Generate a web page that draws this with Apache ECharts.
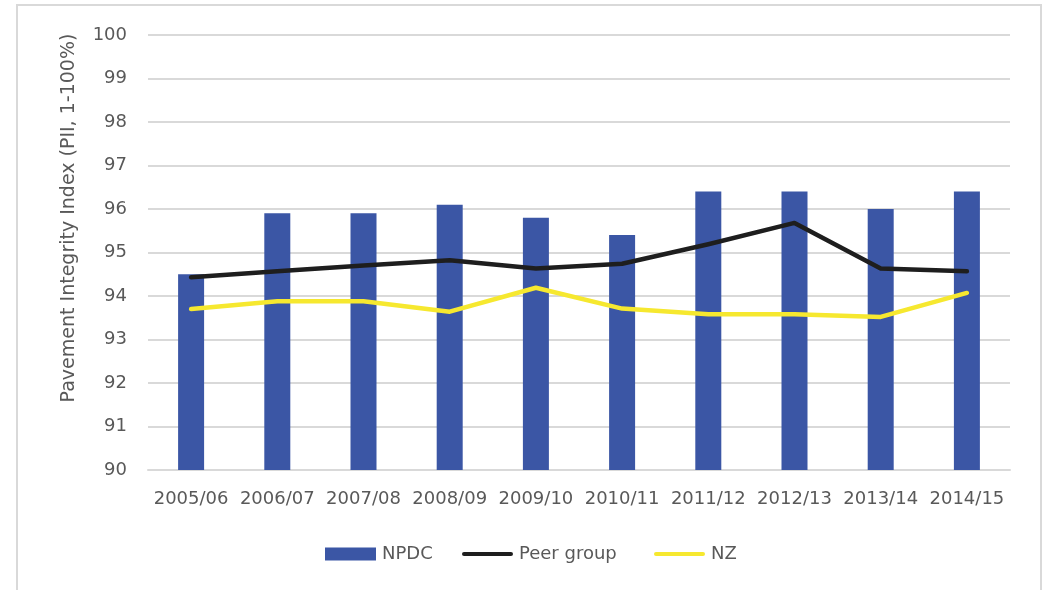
<!DOCTYPE html>
<html>
<head>
<meta charset="utf-8">
<script src="https://cdn.jsdelivr.net/npm/echarts@6/dist/echarts.min.js"></script>
<style>
  html, body { margin: 0; padding: 0; background: #ffffff; }
  #chart { width: 1046px; height: 590px; }
</style>
</head>
<body>
<div id="chart"></div>
<script>
// Pavement Integrity Index by financial year
const years = ['2005/06', '2006/07', '2007/08', '2008/09', '2009/10', '2010/11', '2011/12', '2012/13', '2013/14', '2014/15'];
const npdc = [94.5, 95.9, 95.9, 96.1, 95.8, 95.4, 96.4, 96.4, 96.0, 96.4];
const peerGroup = [94.43, 94.57, 94.70, 94.82, 94.63, 94.74, 95.19, 95.68, 94.63, 94.57];
const nz = [93.70, 93.88, 93.88, 93.64, 94.19, 93.71, 93.58, 93.58, 93.52, 94.07];
const yTicks = { min: 90, max: 100, step: 1 };

const FONT = 'DejaVu Sans';
const TEXT_COLOR = '#595959';
const GRID_COLOR = '#d9d9d9';
const BAR_COLOR = '#3b56a5';
const PEER_COLOR = '#1e1e1e';
const NZ_COLOR = '#f6e82f';

// thick rounded stroke used as the legend marker for the line series
const LINE_ICON = 'path://M2,0 L49,0 A2,2 0 0 1 49,4 L2,4 A2,2 0 0 1 2,0 Z';

// one legend block per series so each entry sits at its own offset
function legendEntry(left, name, icon, color) {
  return {
    left: left,
    top: 545,
    padding: 0,
    itemWidth: 51,
    itemHeight: 13,
    symbolKeepAspect: true,
    textStyle: { fontFamily: FONT, fontSize: 18, color: TEXT_COLOR, padding: [0, 0, 0, 1] },
    data: [{ name: name, icon: icon, itemStyle: { color: color, borderWidth: 0 } }]
  };
}

const chart = echarts.init(document.getElementById('chart'), null, { renderer: 'canvas' });

chart.setOption({
  backgroundColor: '#ffffff',
  animation: false,
  textStyle: { fontFamily: FONT },
  grid: { left: 148, right: 36, top: 35, bottom: 120, containLabel: false },
  legend: [
    legendEntry(325, 'NPDC', 'rect', BAR_COLOR),
    legendEntry(462, 'Peer group', LINE_ICON, PEER_COLOR),
    legendEntry(654, 'NZ', LINE_ICON, NZ_COLOR)
  ],
  xAxis: {
    type: 'category',
    data: years,
    boundaryGap: true,
    axisLine: { show: true, lineStyle: { color: GRID_COLOR, width: 2 } },
    axisTick: { show: false },
    axisLabel: { interval: 0, margin: 20, color: TEXT_COLOR, fontFamily: FONT, fontSize: 18 }
  },
  yAxis: {
    type: 'value',
    min: yTicks.min,
    max: yTicks.max,
    interval: yTicks.step,
    axisLine: { show: false },
    axisTick: { show: false },
    splitLine: { show: true, lineStyle: { color: GRID_COLOR, width: 2 } },
    axisLabel: { margin: 21, color: TEXT_COLOR, fontFamily: FONT, fontSize: 18 }
  },
  graphic: [
    {
      type: 'rect',
      silent: true,
      shape: { x: 17, y: 5, width: 1024, height: 600 },
      style: { fill: 'none', stroke: '#d9d9d9', lineWidth: 2 }
    },
    {
      type: 'text',
      silent: true,
      x: 69,
      y: 218,
      rotation: Math.PI / 2,
      style: {
        text: 'Pavement Integrity Index (PII, 1-100%)',
        fontFamily: FONT,
        fontSize: 19,
        fill: TEXT_COLOR,
        align: 'center',
        verticalAlign: 'middle'
      }
    }
  ],
  series: [
    {
      name: 'NPDC',
      type: 'bar',
      data: npdc,
      barWidth: 26,
      itemStyle: { color: BAR_COLOR }
    },
    {
      name: 'Peer group',
      type: 'line',
      data: peerGroup,
      symbol: 'none',
      lineStyle: { color: PEER_COLOR, width: 4.5, cap: 'round', join: 'round' },
      itemStyle: { color: PEER_COLOR }
    },
    {
      name: 'NZ',
      type: 'line',
      data: nz,
      symbol: 'none',
      lineStyle: { color: NZ_COLOR, width: 4.5, cap: 'round', join: 'round' },
      itemStyle: { color: NZ_COLOR }
    }
  ]
});
</script>
</body>
</html>
